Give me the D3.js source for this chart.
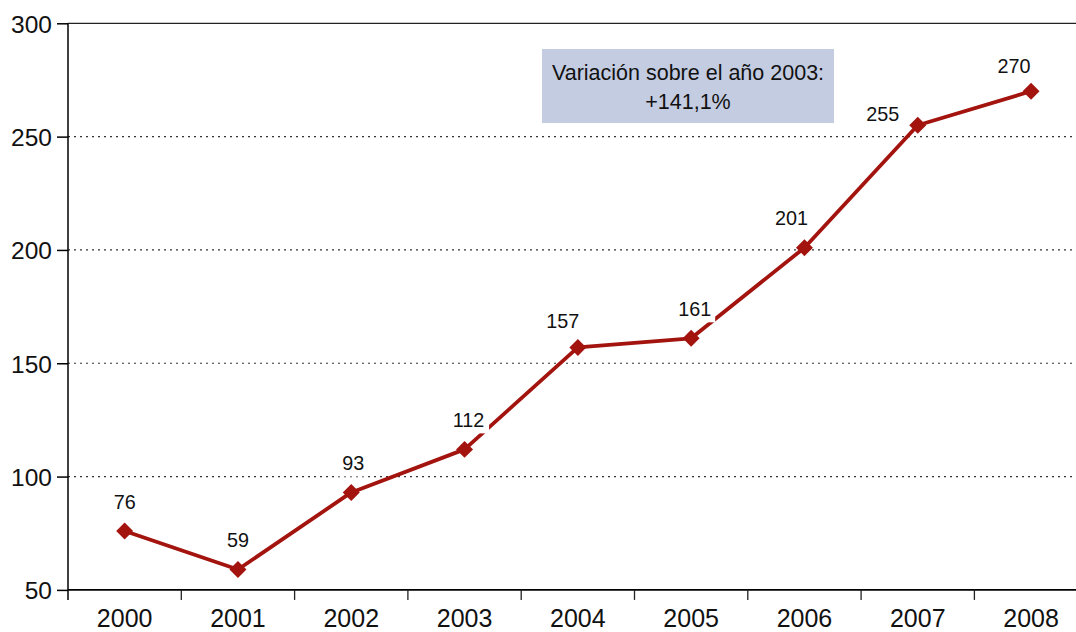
<!DOCTYPE html>
<html>
<head>
<meta charset="utf-8">
<script src="https://cdn.jsdelivr.net/npm/d3@7"></script>
<style>
  html, body { margin: 0; padding: 0; background: #fff; }
  svg { display: block; font-family: "Liberation Sans", Arial, Helvetica, sans-serif; }
</style>
</head>
<body>
<svg id="chart" width="1076" height="632"></svg>
<script>
// Yearly series
const years = ["2000", "2001", "2002", "2003", "2004", "2005", "2006", "2007", "2008"];
const values = [76, 59, 93, 112, 157, 161, 201, 255, 270];
const yTicks = [50, 100, 150, 200, 250, 300];
// Value-label nudges (px): horizontal shift and height above the point
const labelDx = [0, 0, 2, 4, -15, 3.5, -13, -35, -17];
const labelDy = [22, 23, 22, 22, 19, 22, 23, 4, 18];
const noteLines = ["Variación sobre el año 2003:", "+141,1%"];

const svg = d3.select("#chart");
const W = 1076;
const plotLeft = 68, plotTop = 23.3, plotBottom = 589.9;
const step = 113.3;

const x = d3.scaleBand()
  .domain(years)
  .range([plotLeft, plotLeft + step * years.length])
  .paddingInner(0).paddingOuter(0);

const y = d3.scaleLinear().domain([50, 300]).range([plotBottom, plotTop]);

const red = "#a3140f";

// gridlines
svg.append("g").selectAll("line")
  .data(yTicks.filter(d => d > 50 && d < 300))
  .join("line")
  .attr("x1", plotLeft).attr("x2", W)
  .attr("y1", d => y(d)).attr("y2", d => y(d))
  .attr("stroke", "#333")
  .attr("stroke-width", 1.2)
  .attr("stroke-dasharray", "2,4");

// top frame line
svg.append("line")
  .attr("x1", plotLeft).attr("x2", W)
  .attr("y1", y(300)).attr("y2", y(300))
  .attr("stroke", "#222").attr("stroke-width", 1.2);

// y axis
const yAxis = d3.axisLeft(y).tickValues(yTicks).tickSize(11).tickPadding(5);
const gy = svg.append("g").attr("transform", `translate(${plotLeft},0)`).call(yAxis);
gy.select(".domain").remove();
gy.selectAll(".tick line").attr("stroke", "#000").attr("stroke-width", 1.5);
gy.selectAll(".tick text").attr("font-size", 24.5).attr("fill", "#111")
  .attr("font-family", "Liberation Sans, Arial, sans-serif")
  .attr("dy", "0.36em");
svg.append("line")
  .attr("x1", plotLeft).attr("x2", plotLeft)
  .attr("y1", plotTop).attr("y2", plotBottom + 10)
  .attr("stroke", "#000").attr("stroke-width", 1.5);

// x axis: baseline, band boundary ticks, centred labels
svg.append("line")
  .attr("x1", plotLeft).attr("x2", W)
  .attr("y1", plotBottom).attr("y2", plotBottom)
  .attr("stroke", "#000").attr("stroke-width", 1.8);
svg.append("g").selectAll("line")
  .data(years.slice(1))
  .join("line")
  .attr("x1", d => x(d)).attr("x2", d => x(d))
  .attr("y1", plotBottom).attr("y2", plotBottom + 10)
  .attr("stroke", "#222").attr("stroke-width", 1.3);
svg.append("g").selectAll("text")
  .data(years)
  .join("text")
  .attr("x", d => x(d) + x.bandwidth() / 2)
  .attr("y", 627)
  .attr("text-anchor", "middle")
  .attr("font-size", 25)
  .attr("fill", "#111")
  .text(d => d);

// series line
const pts = years.map((yr, i) => ({ yr, v: values[i], dx: labelDx[i], dy: labelDy[i] }));
const cx = d => x(d.yr) + x.bandwidth() / 2;

svg.append("path")
  .datum(pts)
  .attr("d", d3.line().x(cx).y(d => y(d.v)))
  .attr("fill", "none")
  .attr("stroke", red)
  .attr("stroke-width", 3.8)
  .attr("stroke-linejoin", "round");

// diamond markers
svg.append("g").selectAll("path")
  .data(pts)
  .join("path")
  .attr("transform", d => `translate(${cx(d)},${y(d.v)}) rotate(45)`)
  .attr("d", "M-6,-6H6V6H-6Z")
  .attr("fill", red);

// value labels on white backing
const lab = svg.append("g").selectAll("g")
  .data(pts)
  .join("g")
  .attr("transform", d => `translate(${cx(d) + d.dx},${y(d.v) - d.dy})`);
lab.append("rect")
  .attr("x", d => -String(d.v).length * 5.5 - 4)
  .attr("y", -18)
  .attr("width", d => String(d.v).length * 11 + 8)
  .attr("height", 24)
  .attr("fill", "#fff");
lab.append("text")
  .attr("text-anchor", "middle")
  .attr("font-size", 19.8)
  .attr("fill", "#111")
  .text(d => d.v);

// note box
const note = svg.append("g");
note.append("rect")
  .attr("x", 542).attr("y", 49)
  .attr("width", 292).attr("height", 74)
  .attr("fill", "#c3cce1");
note.selectAll("text")
  .data(noteLines)
  .join("text")
  .attr("x", 688)
  .attr("y", (d, i) => 79.5 + i * 29)
  .attr("text-anchor", "middle")
  .attr("font-size", 21.5)
  .attr("fill", "#111")
  .text(d => d);
</script>
</body>
</html>
